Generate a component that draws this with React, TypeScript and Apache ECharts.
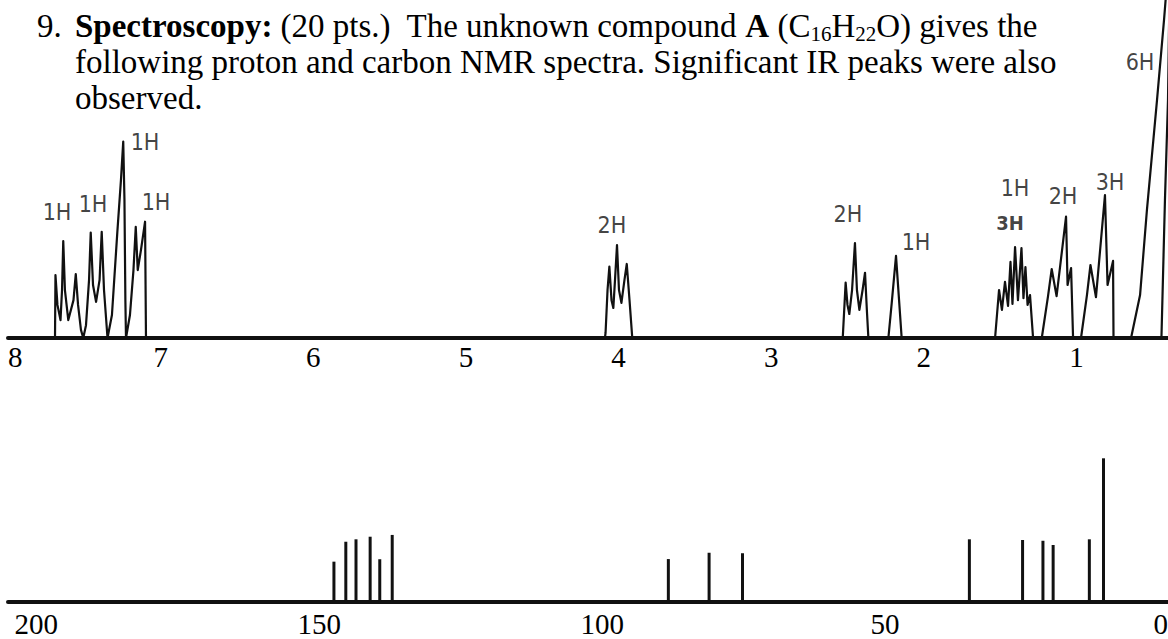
import React, { useEffect, useRef } from 'react';
import * as echarts from 'echarts';

// ---------- 1H NMR trace (chemical shift in ppm, relative intensity) ----------
const protonShift = [
  8.0, 7.692, 7.689, 7.676, 7.656, 7.646, 7.638, 7.627, 7.605, 7.571, 7.556, 7.541, 7.522, 7.507,
  7.489, 7.469, 7.458, 7.443, 7.423, 7.4, 7.386, 7.371, 7.348, 7.319, 7.284, 7.26, 7.245, 7.237,
  7.231, 7.227, 7.201, 7.178, 7.163, 7.15, 7.129, 7.102, 7.096,
  4.089, 4.085, 4.072, 4.06, 4.046, 4.034, 4.023, 4.01, 3.997, 3.981, 3.961, 3.946, 3.928, 3.91,
  2.531, 2.512, 2.5, 2.488, 2.47, 2.451, 2.438, 2.422, 2.401, 2.385, 2.373, 2.363,
  2.232, 2.21, 2.182, 2.162, 2.145,
  1.533, 1.507, 1.488, 1.468, 1.448, 1.432, 1.419, 1.402, 1.383, 1.36, 1.347, 1.334, 1.32, 1.304, 1.284,
  1.227, 1.186, 1.162, 1.13, 1.068, 1.058, 1.035, 1.022,
  0.97, 0.931, 0.908, 0.872, 0.813, 0.796, 0.76, 0.757,
  0.642, 0.583, 0.538, 0.472, 0.426, 0.413, 0.387, 0.4, 0.42, 0.443, 0.4,
];
const protonIntensity = [
  0, 0, 18.6, 9.8, 5.3, 14.2, 28.7, 14.2, 5.3, 11.2, 18.9, 9.8, 2.4, 0,
  3.8, 17.2, 31.2, 15.7, 10.7, 17.2, 31.4, 14.2, 0, 6.8, 31.1, 46.7, 58.1, 40.8,
  11.2, 0, 6.8, 20.1, 32.9, 20.1, 26.0, 34.4, 0,
  0, 1.5, 14.2, 21.1, 11.2, 8.9, 17.2, 27.5, 14.2, 10.4, 17.2, 21.9, 11.2, 0,
  0, 16.4, 9.8, 7.1, 14.2, 28.1, 14.2, 8.3, 14.2, 19.3, 8.3, 0,
  0, 10.4, 24.3, 11.2, 0,
  0, 14.2, 8.3, 16.6, 9.5, 22.5, 10.1, 26.9, 11.2, 26.6, 11.8, 21.0, 9.8, 12.7, 0,
  0, 12.4, 20.4, 12.4, 35.9, 15.7, 20.7, 0,
  0, 12.7, 21.6, 12.1, 42.3, 15.7, 22.8, 0,
  0, 12.7, 37.9, 70.4, 94.1, 101.5, 111.8, 70.4, 40.8, 0, 0,
];

// handwritten integration notes
const noteText = ['1H', '1H', '1H', '1H', '2H', '2H', '1H', '1H', '3H', '2H', '3H', '6H'];
const noteShift = [7.679, 7.443, 7.102, 7.03, 4.043, 2.497, 2.051, 1.402, 1.435, 1.088, 0.78, 0.583];
const noteHeight = [37.3, 39.6, 58.0, 40.2, 33.4, 36.7, 28.4, 44.4, 34.0, 42.0, 46.2, 81.7];

// ---------- 13C NMR sticks ----------
const carbonShift = [147.4, 145.3, 143.5, 141.0, 139.3, 137.1, 88.3, 81.1, 75.2, 35.1, 25.7, 22.1, 20.3, 13.9, 11.4];
const carbonIntensity = [24.9, 37.2, 38.7, 40.3, 26.4, 41.4, 26.5, 30.4, 30.1, 38.7, 38.3, 37.8, 35.2, 38.7, 88.7];

const SERIF = '"Liberation Serif", "Times New Roman", serif';
const HAND = '"Liberation Sans Narrow", "DejaVu Sans Condensed", "Noto Sans", sans-serif';
const INK = '#111';

export default function App() {
  const ref = useRef<HTMLDivElement>(null);
  useEffect(() => {
    const chart = echarts.init(ref.current!, null, { renderer: 'svg' });
    const option: any = {
      animation: false,
      backgroundColor: '#fff',
      grid: [
        { left: 8, right: 0, top: 0, height: 338, outerBoundsMode: 'none' },
        { left: 8, right: 0, top: 440, height: 162, outerBoundsMode: 'none' },
      ],
      xAxis: [
        {
          type: 'value', gridIndex: 0, min: 0.4, max: 8, inverse: true,
          splitNumber: 8, minInterval: 1, maxInterval: 1,
          axisLine: { show: true, onZero: false, lineStyle: { color: INK, width: 4 } },
          axisTick: { show: false }, splitLine: { show: false },
          axisLabel: {
            show: true, margin: 4, fontFamily: SERIF, fontSize: 29, color: '#000',
            alignMaxLabel: 'left',
            formatter: (v: number) => (Number.isInteger(v) && v >= 1 ? String(v) : ''),
          },
        },
        {
          type: 'value', gridIndex: 1, min: 0, max: 205, interval: 50, inverse: true,
          axisLine: { show: true, onZero: false, lineStyle: { color: INK, width: 4 } },
          axisTick: { show: false }, splitLine: { show: false },
          axisLabel: {
            show: true, margin: 7, fontFamily: SERIF, fontSize: 29, color: '#000',
            alignMinLabel: 'right',
            formatter: (v: number) => (v % 50 === 0 ? String(v) : ''),
          },
        },
      ],
      yAxis: [
        { type: 'value', gridIndex: 0, min: 0, max: 100, show: false },
        { type: 'value', gridIndex: 1, min: 0, max: 100, show: false },
      ],
      series: [
        {
          type: 'line', xAxisIndex: 0, yAxisIndex: 0, symbol: 'none', silent: true,
          data: protonShift.map((s, i) => [s, protonIntensity[i]]),
          lineStyle: { color: INK, width: 2.2, join: 'round', cap: 'round' },
        },
        {
          type: 'scatter', xAxisIndex: 0, yAxisIndex: 0, symbolSize: 0, silent: true,
          data: noteText.map((t, i) => ({
            name: t, value: [noteShift[i], noteHeight[i]],
            label: i === 8 ? { fontWeight: 'bold', fontSize: 20 } : undefined,
          })),
          label: {
            show: true, position: 'inside', formatter: (p: any) => p.name,
            fontFamily: HAND, fontSize: 23, color: INK,
          },
        },
        {
          type: 'bar', xAxisIndex: 1, yAxisIndex: 1, barWidth: 3, silent: true,
          data: carbonShift.map((s, i) => [s, carbonIntensity[i]]),
          itemStyle: { color: INK },
        },
      ],
      graphic: [
        {
          type: 'text', x: 37, y: 8, silent: true,
          style: { text: '9.', fontFamily: SERIF, fontSize: 33, lineHeight: 36, fill: '#000' },
        },
        {
          type: 'text', x: 75, y: 8, silent: true,
          style: {
            text:
              '{b|Spectroscopy:} (20 pts.)  The unknown compound {b|A} (C{s|16}H{s|22}O) gives the\n' +
              'following proton and carbon NMR spectra. Significant IR peaks were also\n' +
              'observed.',
            fontFamily: SERIF, fontSize: 33, lineHeight: 36, fill: '#000',
            rich: {
              b: { fontFamily: SERIF, fontSize: 33, fontWeight: 'bold', lineHeight: 36, fill: '#000' },
              s: { fontFamily: SERIF, fontSize: 21, lineHeight: 20, verticalAlign: 'bottom', fill: '#000' },
            },
          },
        },
      ],
    };
    chart.setOption(option);
    return () => chart.dispose();
  }, []);
  return (
    <div
      ref={ref}
      style={{ position: 'absolute', left: 0, top: 0, width: 1168, height: 639, background: '#fff' }}
    />
  );
}
